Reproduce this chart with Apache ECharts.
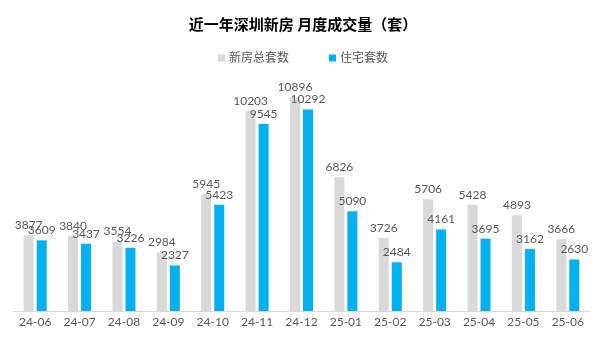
<!DOCTYPE html>
<html><head><meta charset="utf-8">
<script src="https://cdn.jsdelivr.net/npm/echarts@6/dist/echarts.min.js"></script>
<style>html,body{margin:0;padding:0;background:#fff}#c{width:606px;height:341px}</style>
</head><body><div id="c"></div>
<script>
const categories = ['24-06','24-07','24-08','24-09','24-10','24-11','24-12','25-01','25-02','25-03','25-04','25-05','25-06'];
const totalUnits = [3877,3840,3554,2984,5945,10203,10896,6826,3726,5706,5428,4893,3666];
const residentialUnits = [3609,3437,3226,2327,5423,9545,10292,5090,2484,4161,3695,3162,2630];
const seriesNames = ['新房总套数','住宅套数'];
const titleText = '近一年深圳新房 月度成交量（套）';

const font = "Lato, 'Noto Sans CJK SC', sans-serif";
const chart = echarts.init(document.getElementById('c'));
chart.setOption({
  animation: false,
  backgroundColor: '#fff',
  title: {
    text: titleText, left: 'center', top: 12,
    textStyle: {fontFamily: "'Noto Sans CJK SC', sans-serif", fontSize: 15, fontWeight: 'bold', color: '#000'}
  },
  legend: {
    data: seriesNames, top: 47, left: 'center', itemWidth: 7, itemHeight: 7, itemGap: 40,
    icon: 'rect',
    textStyle: {fontFamily: font, fontSize: 12, color: '#595959', padding: [0,0,0,-1]}
  },
  grid: {left: 13, right: 16, top: 76, bottom: 30, containLabel: false},
  xAxis: {
    type: 'category', data: categories,
    axisLine: {lineStyle: {color: '#d9d9d9', width: 1}},
    axisTick: {show: false},
    axisLabel: {fontFamily: font, fontSize: 12, color: '#595959', margin: 5}
  },
  yAxis: {type: 'value', min: 0, max: 12000, show: false, splitLine: {show: false}},
  series: [
    {name: seriesNames[0], type: 'bar', data: totalUnits, barWidth: 10, barGap: '30%',
     itemStyle: {color: '#d9d9d9'},
     label: {show: true, position: 'top', distance: 4, fontFamily: font, fontSize: 12, color: '#595959'}},
    {name: seriesNames[1], type: 'bar', data: residentialUnits, barWidth: 10,
     itemStyle: {color: '#00b0f0'},
     label: {show: true, position: 'top', distance: 4, fontFamily: font, fontSize: 12, color: '#595959'}}
  ]
});
</script></body></html>
